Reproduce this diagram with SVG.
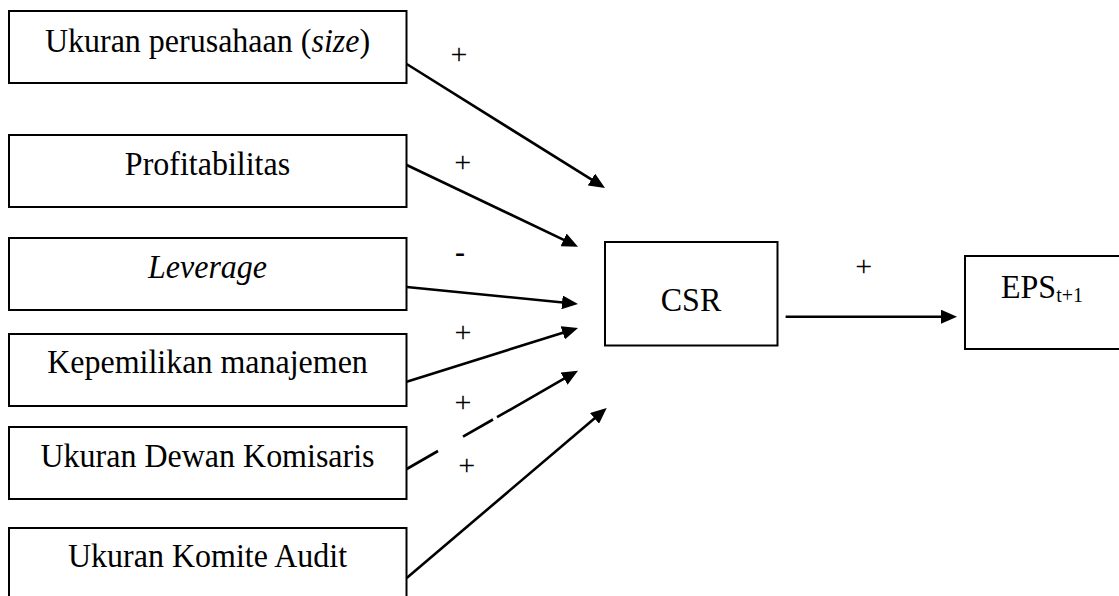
<svg xmlns="http://www.w3.org/2000/svg" width="1119" height="596" viewBox="0 0 1119 596">
<style>
.box{fill:#fff;stroke:#000;stroke-width:2}
.t{font-family:"Liberation Serif","Times New Roman",serif;font-size:32px;fill:#000;text-anchor:middle}
.ts{font-family:"Liberation Serif","Times New Roman",serif;font-size:32px;fill:#000;text-anchor:start}
.s{font-family:"Liberation Serif","Times New Roman",serif;font-size:30px;fill:#000;text-anchor:middle}
.c{fill:none;stroke:#000;stroke-width:2.6;marker-end:url(#ah)}
</style>
<defs>
<marker id="ah" markerUnits="userSpaceOnUse" markerWidth="16" markerHeight="14" refX="6" refY="7" orient="auto">
<path d="M0,0 L16,7 L0,14 z" fill="#000"/>
</marker>
</defs>
<rect width="1119" height="596" fill="#fff"/>
<g id="size"><rect class="box" x="9" y="11" width="397.5" height="72"/><text class="t" transform="translate(207.5,52) scale(1,1.06)">Ukuran perusahaan (<tspan font-style="italic">size</tspan>)</text></g>
<g id="profitabilitas"><rect class="box" x="9" y="135" width="397.5" height="72"/><text class="t" transform="translate(207.5,175) scale(1,1.06)">Profitabilitas</text></g>
<g id="leverage"><rect class="box" x="9" y="238" width="397.5" height="72"/><text class="t" transform="translate(207.5,278) scale(1,1.06)" font-style="italic">Leverage</text></g>
<g id="kepemilikan"><rect class="box" x="9" y="334" width="397.5" height="72"/><text class="t" transform="translate(207.5,373) scale(1,1.06)">Kepemilikan manajemen</text></g>
<g id="dewan"><rect class="box" x="9" y="427" width="397.5" height="72"/><text class="t" transform="translate(207.5,467) scale(1,1.06)">Ukuran Dewan Komisaris</text></g>
<g id="komite"><rect class="box" x="9" y="528" width="397.5" height="100"/><text class="t" transform="translate(207.5,567) scale(1,1.06)">Ukuran Komite Audit</text></g>
<g id="csr"><rect class="box" x="605" y="242" width="172.5" height="103.5"/><text class="t" transform="translate(691,311) scale(1,1.06)">CSR</text></g>
<g id="eps"><rect class="box" x="965" y="256" width="170" height="93"/><text class="ts" transform="translate(1001,298) scale(1,1.06)">EPS<tspan font-size="20" dy="4">t+1</tspan></text></g>
<g id="connectors">
<path class="c" d="M406.7,64 L596.5,182.7"/>
<path class="c" d="M406.7,165 L569,242.4"/>
<path class="c" d="M406.7,287 L568,303"/>
<path class="c" d="M406.7,381.7 L568.5,331"/>
<path class="c" d="M406.7,469 L438,451 M463,436.7 L493,419.5 M497,417.2 L569.3,375.7"/>
<path class="c" d="M406.7,578 L599.1,414.5"/>
<path class="c" d="M785.6,316.7 L947,316.7"/>
</g>
<g id="labels">
<text class="s" x="459" y="63.5">+</text>
<text class="s" x="462.7" y="171.5">+</text>
<text class="s" x="460" y="262" font-weight="bold" font-size="34">-</text>
<text class="s" x="463" y="341.5">+</text>
<text class="s" x="463" y="411.5">+</text>
<text class="s" x="466.7" y="474.5">+</text>
<text class="s" x="863.6" y="275.5">+</text>
</g>
</svg>
